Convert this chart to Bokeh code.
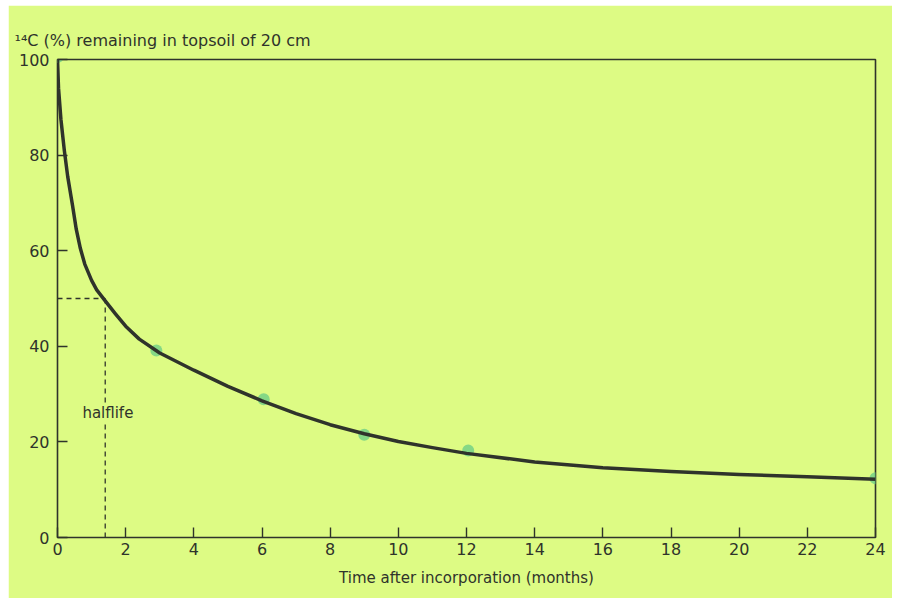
from bokeh.plotting import figure
from bokeh.models import Label, FixedTicker, Range1d
from bokeh.embed import file_html
from bokeh.resources import INLINE

# measured data points
pt_months = [0, 2.9, 6.05, 9.0, 12.05, 24]
pt_pct = [100.5, 39.1, 28.9, 21.5, 18.2, 12.4]

# fitted curve
curve_months = [0, 0.03, 0.1, 0.2, 0.3, 0.44, 0.55, 0.67, 0.8, 1.0, 1.15, 1.4, 1.7, 2, 2.4, 3, 4, 5, 6, 7, 8, 9, 10, 11, 12, 14, 16, 18, 20, 22, 24]
curve_pct = [100, 94, 87.5, 81, 75.5, 69.5, 64.5, 60.5, 57.2, 53.8, 51.8, 49.5, 46.8, 44.2, 41.5, 38.6, 35, 31.6, 28.6, 25.9, 23.6, 21.7, 20.1, 18.8, 17.6, 15.8, 14.6, 13.8, 13.2, 12.7, 12.2]

halflife_month = 1.4
halflife_pct = 50

x_ticks = list(range(0, 25, 2))
y_ticks = [0, 20, 40, 60, 80, 100]

BG = "#DDFB84"
INK = "#2f332b"
FONT = "DejaVu Sans"

p = figure(width=884, height=593, output_backend="svg", toolbar_location=None,
           x_range=Range1d(0, 24), y_range=Range1d(0, 100),
           min_border_left=49, min_border_right=17, min_border_top=54, min_border_bottom=61,
           title="¹⁴C (%) remaining in topsoil of 20 cm")
p.margin = (5, 0, 0, 8)
p.background_fill_color = BG
p.border_fill_color = BG
p.outline_line_color = INK
p.outline_line_width = 1.6
p.grid.visible = False

p.title.text_font = FONT
p.title.text_font_size = "16px"
p.title.text_font_style = "normal"
p.title.text_color = INK
p.title.align = "left"
p.title.offset = -43
p.title.standoff = 20

for ax in (p.xaxis[0], p.yaxis[0]):
    ax.axis_line_color = None
    ax.major_tick_in = 10
    ax.major_tick_out = 0
    ax.minor_tick_line_color = None
    ax.major_tick_line_color = INK
    ax.major_tick_line_width = 1.4
    ax.major_label_text_font = FONT
    ax.major_label_text_font_size = "16px"
    ax.major_label_text_color = INK

p.xaxis.ticker = FixedTicker(ticks=x_ticks)
p.yaxis.ticker = FixedTicker(ticks=y_ticks)
p.xaxis.major_label_standoff = 5
p.yaxis.major_label_standoff = 8
p.xaxis.axis_label = "Time after incorporation (months)"
p.xaxis.axis_label_text_font = FONT
p.xaxis.axis_label_text_font_size = "15px"
p.xaxis.axis_label_text_font_style = "normal"
p.xaxis.axis_label_text_color = INK
p.xaxis.axis_label_standoff = 11

# halflife dashed guide
p.line([0, halflife_month], [halflife_pct, halflife_pct], line_color=INK, line_width=1.3, line_dash="5 4")
p.line([halflife_month, halflife_month], [0, halflife_pct], line_color=INK, line_width=1.3, line_dash="5 4")

p.scatter(pt_months, pt_pct, size=12, fill_color="#6fcf86", fill_alpha=0.8, line_color=None)
p.line(curve_months, curve_pct, line_color=INK, line_width=3.5, line_join="round")

p.add_layout(Label(x=0.73, y=26, text="halflife", text_font=FONT, text_font_size="15px",
                   text_color=INK, text_baseline="middle", background_fill_color=BG))

open("out.html", "w").write(file_html(p, INLINE))
